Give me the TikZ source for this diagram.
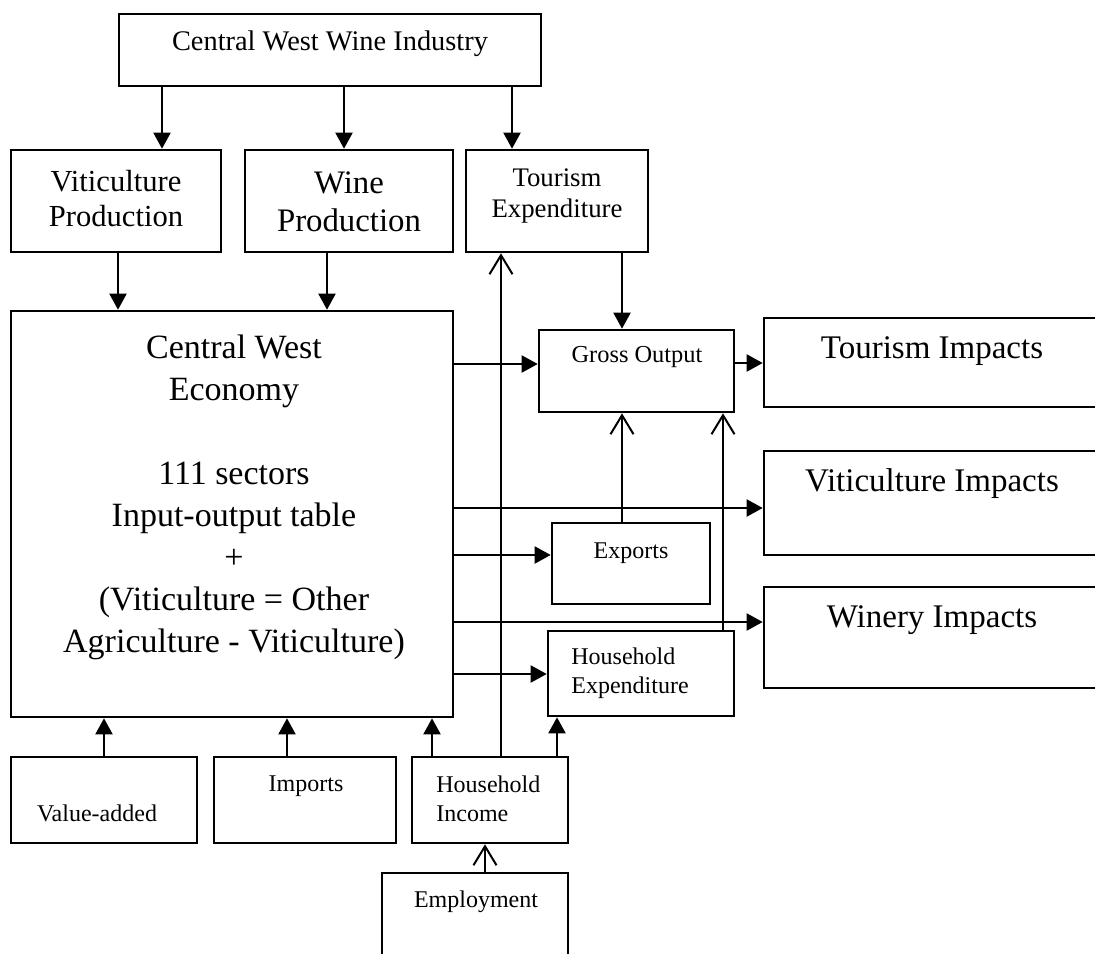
\documentclass[tikz,border=0pt]{standalone}
\usepackage{fontspec}
\setmainfont{Liberation Serif}
\usepackage{tikz}
\usetikzlibrary{arrows.meta,fit}
\tikzstyle{blk} = [rectangle, draw=black, line width=1.3pt, inner sep=0pt]
\tikzstyle{lbl} = [align=center, inner sep=0pt]
\tikzstyle{fil} = [-{Triangle[length=8pt,width=8.5pt]}, line width=1pt]
\tikzstyle{opn} = [-{Straight Barb[length=9.5pt,width=11.5pt]}, line width=1pt]
\newcommand{\fs}[2]{\fontsize{#1}{#2}\selectfont}

\begin{document}
\begin{tikzpicture}[x=0.5pt,y=-0.5pt]
\useasboundingbox (0,0) rectangle (1095,953);
\clip (0,0) rectangle (1095,953);
% boxes
\node [blk, fit={(119,14) (541,86)}] (ind) {};
\node [blk, fit={(11,150) (221,252)}] (vitp) {};
\node [blk, fit={(245,150) (453,252)}] (winp) {};
\node [blk, fit={(466,150) (648,252)}] (tour) {};
\node [blk, fit={(11,311) (453,717)}] (cwe) {};
\node [blk, fit={(539,330) (734,412)}] (gross) {};
\node [blk, fit={(764,318) (1110,407)}] (timp) {};
\node [blk, fit={(764,451) (1110,555)}] (vimp) {};
\node [blk, fit={(764,587) (1110,688)}] (wimp) {};
\node [blk, fit={(552,523) (710,604)}] (exp) {};
\node [blk, fit={(548,631) (734,716)}] (hexp) {};
\node [blk, fit={(11,757) (197,843)}] (va) {};
\node [blk, fit={(214,757) (396,843)}] (imp) {};
\node [blk, fit={(412,757) (568,843)}] (hinc) {};
\node [blk, fit={(382,873) (568,970)}] (emp) {};
% texts
\node [lbl, font=\fs{14.2}{17}] (indT) at (330,44) {Central West Wine Industry};
\node [lbl, font=\fs{15.3}{17.5}] (vitpT) at (116,199) {Viticulture\\Production};
\node [lbl, font=\fs{16.4}{19}] (winpT) at (349,202) {Wine\\Production};
\node [lbl, font=\fs{13.4}{15.5}] (tourT) at (557,196) {Tourism\\Expenditure};
\node [lbl, font=\fs{17}{21}] (cweT) at (234,497) {Central West\\Economy\\[21pt]111 sectors\\Input-output table\\+\\(Viticulture = Other\\Agriculture - Viticulture)};
\node [lbl, font=\fs{12.2}{14}] (grossT) at (637,357) {Gross Output};
\node [lbl, font=\fs{16.5}{19}] (timpT) at (932,351) {Tourism Impacts};
\node [lbl, font=\fs{16.5}{19}] (vimpT) at (932,484) {Viticulture Impacts};
\node [lbl, font=\fs{16.5}{19}] (wimpT) at (932,620) {Winery Impacts};
\node [lbl, font=\fs{12}{14}] (expT) at (631,553) {Exports};
\node [lbl, font=\fs{12}{14.5}, align=left, anchor=west] (hexpT) at (571,673) {Household\\Expenditure};
\node [lbl, font=\fs{12}{14}] (vaT) at (97,813) {Value-added};
\node [lbl, font=\fs{12}{14}] (impT) at (306,786) {Imports};
\node [lbl, font=\fs{12}{14.5}, align=left, anchor=west] (hincT) at (436,799) {Household\\Income};
\node [lbl, font=\fs{12}{14}] (empT) at (476,902) {Employment};
% filled arrows
\draw[fil] (ind.south -| 162,0) -- (vitp.north -| 162,0);
\draw[fil] (ind.south -| 344,0) -- (winp.north -| 344,0);
\draw[fil] (ind.south -| 512,0) -- (tour.north -| 512,0);
\draw[fil] (vitp.south -| 118,0) -- (cwe.north -| 118,0);
\draw[fil] (winp.south -| 327,0) -- (cwe.north -| 327,0);
\draw[fil] (tour.south -| 622,0) -- (gross.north -| 622,0);
\draw[fil] (cwe.east |- 0,364) -- (gross.west |- 0,364);
\draw[fil] (gross.east |- 0,363) -- (timp.west |- 0,363);
\draw[fil] (cwe.east |- 0,508) -- (vimp.west |- 0,508);
\draw[fil] (cwe.east |- 0,555) -- (exp.west |- 0,555);
\draw[fil] (cwe.east |- 0,622) -- (wimp.west |- 0,622);
\draw[fil] (cwe.east |- 0,674) -- (hexp.west |- 0,674);
\draw[fil] (va.north -| 104,0) -- (cwe.south -| 104,0);
\draw[fil] (imp.north -| 287,0) -- (cwe.south -| 287,0);
\draw[fil] (hinc.north -| 432,0) -- (cwe.south -| 432,0);
\draw[fil] (hinc.north -| 557,0) -- (hexp.south -| 557,0);
% open arrows
\draw[opn] (hinc.north -| 501,0) -- (tour.south -| 501,0);
\draw[opn] (exp.north -| 622,0) -- (gross.south -| 622,0);
\draw[opn] (hexp.north -| 723,0) -- (gross.south -| 723,0);
\draw[opn] (emp.north -| 485,0) -- (hinc.south -| 485,0);
\end{tikzpicture}
\end{document}
